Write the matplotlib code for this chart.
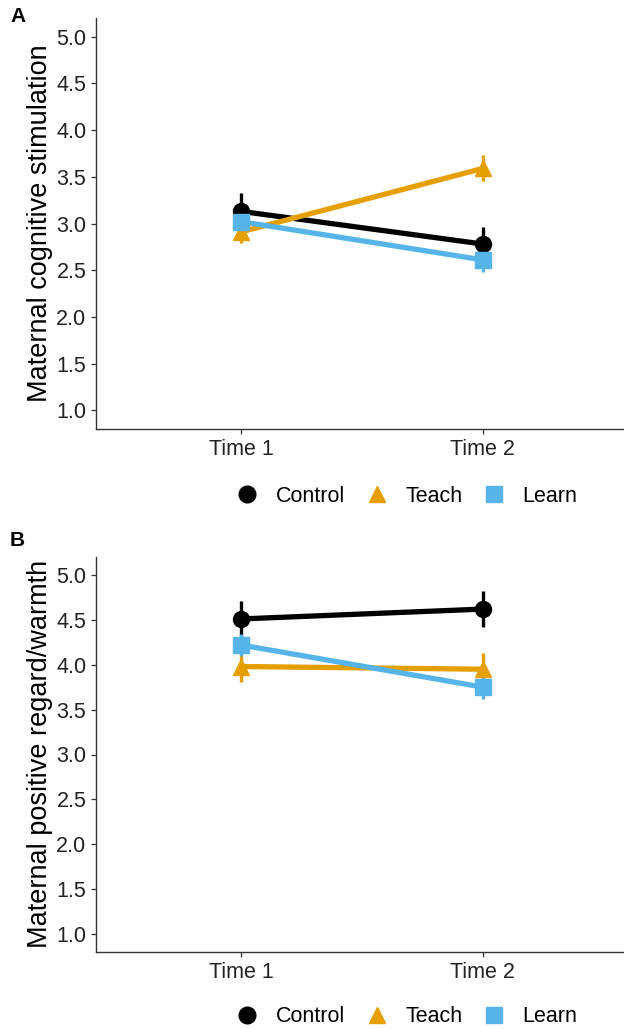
import matplotlib.pyplot as plt
from matplotlib.lines import Line2D

plt.rcParams['font.family'] = ['Liberation Sans', 'DejaVu Sans']

times = ['Time 1', 'Time 2']
groups = ['Control', 'Teach', 'Learn']
colors = ['#000000', '#E69F00', '#56B4E9']
markers = ['o', '^', 's']

# Panel A: maternal cognitive stimulation
stim_mean = {'Control': [3.13, 2.78], 'Teach': [2.91, 3.59], 'Learn': [3.02, 2.61]}
stim_err = {'Control': [0.20, 0.18], 'Teach': [0.12, 0.14], 'Learn': [0.12, 0.13]}

# Panel B: maternal positive regard/warmth
warm_mean = {'Control': [4.51, 4.62], 'Teach': [3.98, 3.95], 'Learn': [4.22, 3.75]}
warm_err = {'Control': [0.20, 0.20], 'Teach': [0.17, 0.18], 'Learn': [0.12, 0.13]}

W, H = 624, 1029
fig = plt.figure(figsize=(W / 100, H / 100), dpi=100)


def panel(rect, means, errs, ylabel, letter, letter_y, label_y, legend_y):
    ax = fig.add_axes(rect)
    x = [1, 2]
    for g, c in zip(groups, colors):
        ax.plot(x, means[g], color=c, lw=3.8, zorder=2, solid_capstyle='butt')
    for g, c in zip(groups, colors):
        ax.errorbar(x, means[g], yerr=errs[g], fmt='none', ecolor=c, elinewidth=2.4,
                    capsize=0, zorder=3)
    for g, c, m in zip(groups, colors, markers):
        ax.plot(x, means[g], linestyle='none', marker=m, color=c, markersize=11.5, zorder=4)
    ax.set_xlim(0.4, 2.6)
    ax.set_ylim(0.8, 5.2)
    ax.set_xticks(x)
    ax.set_xticklabels(times)
    ax.set_yticks([1.0, 1.5, 2.0, 2.5, 3.0, 3.5, 4.0, 4.5, 5.0])
    ax.set_yticklabels(['%.1f' % v for v in ax.get_yticks()])
    ax.tick_params(labelsize=15.5, colors='#333333', length=3.5, width=0.9, labelcolor='#222222')
    for s in ['top', 'right']:
        ax.spines[s].set_visible(False)
    for s in ['left', 'bottom']:
        ax.spines[s].set_linewidth(1.0)
        ax.spines[s].set_color('#333333')
    fig.text(40 / W, 1 - label_y / H, ylabel, rotation=90, ha='center', va='center', fontsize=19.5)
    fig.text(10 / W, 1 - letter_y / H, letter, fontsize=15, fontweight='bold', ha='left', va='center')
    handles = [Line2D([], [], linestyle='none', marker=m, color=c, markersize=12)
               for c, m in zip(colors, markers)]
    fig.legend(handles, groups, loc='center', bbox_to_anchor=(407 / W, 1 - legend_y / H), ncol=3,
               frameon=False, fontsize=15.5, handlelength=1.0, handletextpad=0.8,
               columnspacing=1.0, borderpad=0.2)
    return ax


panel([96 / W, 1 - 429 / H, 532 / W, 411 / H], stim_mean, stim_err,
      'Maternal cognitive stimulation', 'A', 17, 223, 496)
panel([96 / W, 1 - 952 / H, 532 / W, 395 / H], warm_mean, warm_err,
      'Maternal positive regard/warmth', 'B', 540, 754, 1017)

fig.savefig('out.png', dpi=100)
